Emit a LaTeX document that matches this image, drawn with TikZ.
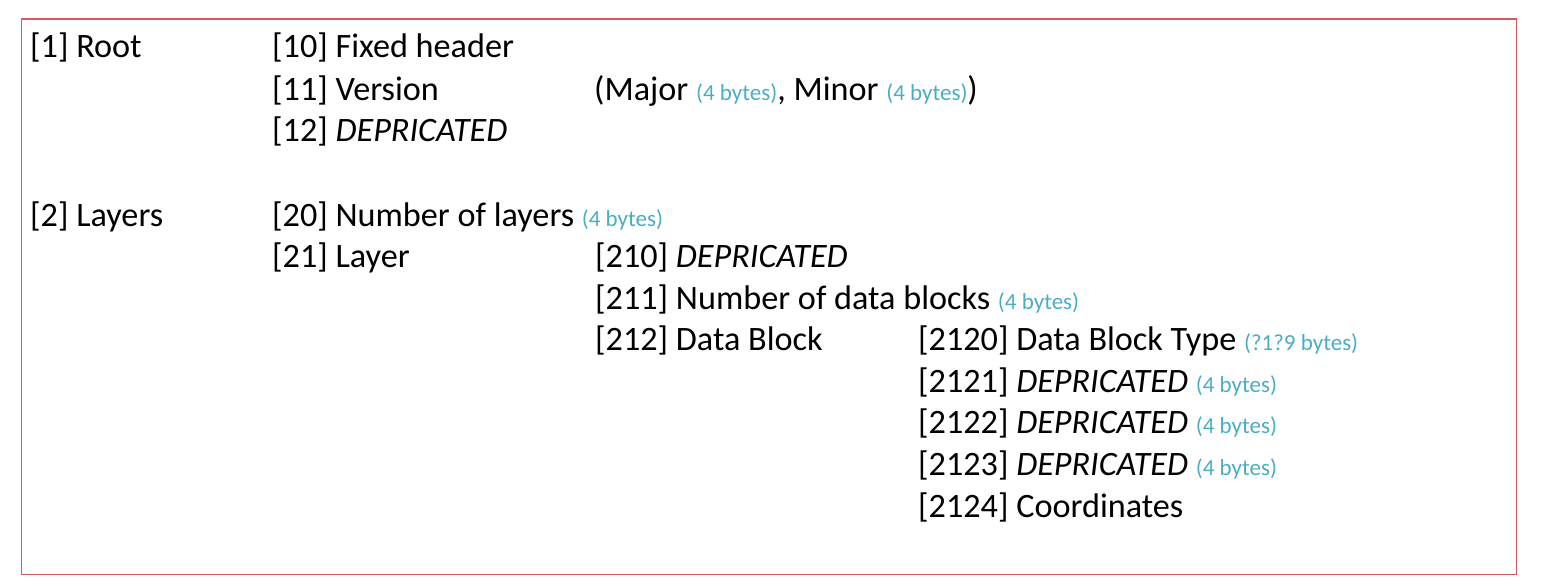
\documentclass[tikz,border=0pt]{standalone}
\usepackage{fontspec}
\setmainfont{Carlito}
\definecolor{framered}{RGB}{208,92,92}
\definecolor{sizeblue}{RGB}{75,172,198}
\newcommand{\bytes}[1]{{\fontsize{23}{27}\selectfont\color{sizeblue}#1}}
\begin{document}
\begin{tikzpicture}[x=1pt,y=-1pt,
  entry/.style={anchor=base west,inner sep=0pt,font=\fontsize{34.2}{40}\selectfont}]
\useasboundingbox (0,0) rectangle (1561,586);
\node[draw=framered,line width=1.3pt,anchor=north west,minimum width=1495pt,minimum height=555pt,inner sep=0pt] (frame) at (20.5,18.5) {};
% level 0
\node[entry] (root) at (30,58) {[1] Root};
\node[entry] (layers) at (30,226) {[2] Layers};
% level 1
\node[entry] (n10) at (272,58) {[10] Fixed header};
\node[entry] (n11) at (272,100) {[11] Version};
\node[entry] (n11v) at (594,100) {(Major \bytes{(4 bytes)}, Minor \bytes{(4 bytes)})};
\node[entry] (n12) at (272,141) {[12] \textit{DEPRICATED}};
\node[entry] (n20) at (272,226) {[20] Number of layers \bytes{(4 bytes)}};
\node[entry] (n21) at (272,267) {[21] Layer};
% level 2
\node[entry] (n210) at (595,267) {[210] \textit{DEPRICATED}};
\node[entry] (n211) at (595,309) {[211] Number of data blocks \bytes{(4 bytes)}};
\node[entry] (n212) at (595,350) {[212] Data Block};
% level 3
\node[entry] (n2120) at (918,350) {[2120] Data Block Type \bytes{(?1?9 bytes)}};
\node[entry] (n2121) at (918,392) {[2121] \textit{DEPRICATED} \bytes{(4 bytes)}};
\node[entry] (n2122) at (918,433) {[2122] \textit{DEPRICATED} \bytes{(4 bytes)}};
\node[entry] (n2123) at (918,475) {[2123] \textit{DEPRICATED} \bytes{(4 bytes)}};
\node[entry] (n2124) at (918,517) {[2124] Coordinates};
\end{tikzpicture}
\end{document}
